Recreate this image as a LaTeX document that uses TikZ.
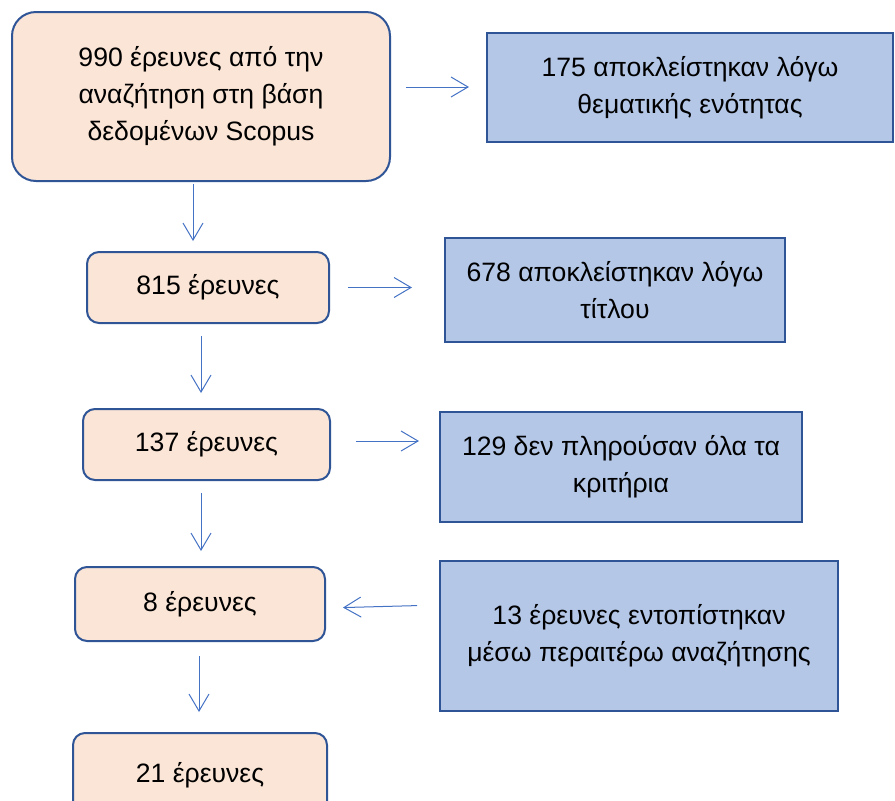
\documentclass[tikz,border=0pt]{standalone}
\usepackage{fontspec}
\setmainfont{Liberation Sans}
\usetikzlibrary{arrows.meta,positioning}
\definecolor{BoxLine}{RGB}{47,85,151}
\definecolor{ArrBlue}{RGB}{68,114,196}
\definecolor{Peach}{RGB}{251,229,214}
\definecolor{PaleBlue}{RGB}{180,199,231}

\begin{document}
\begin{tikzpicture}[
    x=1pt, y=-1pt,
    >={Straight Barb[length=8.5pt, width=10pt]},
    keep/.style={rectangle, rounded corners=#1, draw=BoxLine, fill=Peach,
                 line width=1pt, align=center, inner sep=0pt,
                 font=\fontsize{13.3}{18.5}\selectfont},
    keep/.default=6pt,
    drop/.style={rectangle, draw=BoxLine, fill=PaleBlue,
                 line width=1pt, align=center, inner sep=0pt,
                 font=\fontsize{13.3}{18.5}\selectfont},
    arr/.style={->, line width=0.5pt, color=ArrBlue},
]
\useasboundingbox (0,0) rectangle (447.5,400);

% ── Left column: remaining studies ──
\node[keep=12pt, minimum width=189pt, minimum height=84.5pt] (n990) at (100.5,48.25)
    {990 έρευνες από την\\αναζήτηση στη βάση\\δεδομένων Scopus};
\node[keep, minimum width=121pt, minimum height=35.5pt] (n815) at (104,143.75) {815 έρευνες};
\node[keep, minimum width=123.5pt, minimum height=35.5pt] (n137) at (103.25,222.25) {137 έρευνες};
\node[keep, minimum width=125pt, minimum height=37pt] (n8) at (100,302) {8 έρευνες};
\node[keep, minimum width=127pt, minimum height=42pt] (n21) at (100,387.5) {21 έρευνες};

% ── Right column: exclusions / additions ──
\node[drop, minimum width=203pt, minimum height=54.5pt] (x175) at (345,43.75)
    {175 αποκλείστηκαν λόγω\\θεματικής ενότητας};
\node[drop, minimum width=170pt, minimum height=52pt] (x678) at (307.5,145)
    {678 αποκλείστηκαν λόγω\\τίτλου};
\node[drop, minimum width=181pt, minimum height=55pt] (x129) at (310.5,233.5)
    {129 δεν πληρούσαν όλα τα\\κριτήρια};
\node[drop, minimum width=199pt, minimum height=75pt] (add13) at (319.5,318)
    {13 έρευνες εντοπίστηκαν\\μέσω περαιτέρω αναζήτησης};

% ── Arrows: down the left column ──
\draw[arr, shorten <=1pt, shorten >=5pt] ([xshift=-4pt]n990.south) -- ([xshift=-4pt]n990.south |- n815.north);
\draw[arr, shorten <=6pt, shorten >=7.5pt] ([xshift=-3.5pt]n815.south) -- ([xshift=-3.5pt]n815.south |- n137.north);
\draw[arr, shorten <=6pt, shorten >=7.5pt] ([xshift=-2.75pt]n137.south) -- ([xshift=-2.75pt]n137.south |- n8.north);
\draw[arr, shorten <=7pt, shorten >=10pt] ([xshift=-0.5pt]n8.south) -- ([xshift=-0.5pt]n8.south |- n21.north);

% ── Arrows: sideways (yshift counts upwards) ──
\draw[arr, shorten <=7.5pt, shorten >=8.5pt] ([yshift=4.75pt]n990.east) -- ([yshift=4.75pt]n990.east -| x175.west);
\draw[arr, shorten <=9pt, shorten >=16pt] (n815.east) -- (n815.east -| x678.west);
\draw[arr, shorten <=12.5pt, shorten >=10pt] ([yshift=1.75pt]n137.east) -- ([yshift=1.75pt]n137.east -| x129.west);
\draw[arr, shorten <=11pt, shorten >=8.5pt] ([yshift=15.5pt]add13.west) -- ([yshift=-2pt]n8.east);

\end{tikzpicture}
\end{document}
